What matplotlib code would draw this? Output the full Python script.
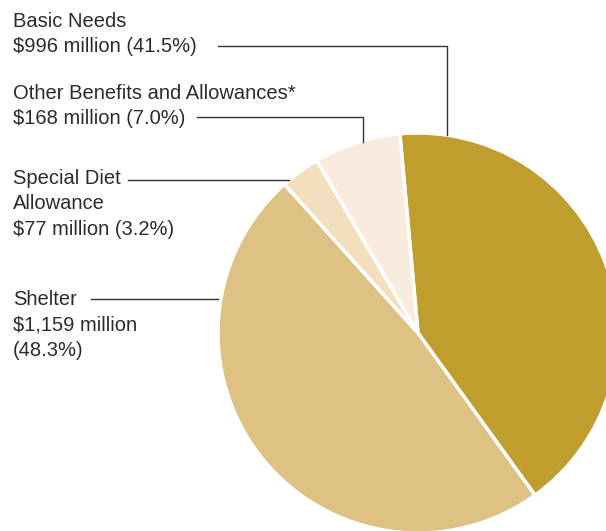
import matplotlib
matplotlib.use("Agg")
import matplotlib.pyplot as plt

plt.rcParams['font.family'] = ['Liberation Sans', 'DejaVu Sans']

# spending by category, $ millions, clockwise from the top
categories = ['Basic Needs', 'Shelter', 'Special Diet Allowance', 'Other Benefits and Allowances*']
amounts = [996, 1159, 77, 168]
shares = [41.5, 48.3, 3.2, 7.0]
colors = ['#bf9e2e', '#dec283', '#f2dfbe', '#f9ecde']

W, H = 606, 531
fig = plt.figure(figsize=(W / 100, H / 100), dpi=100)
ax = fig.add_axes([0, 0, 1, 1])

cx, cy, r = 418, H - 333, 200
ax.pie(shares, colors=colors, startangle=95.2, counterclock=False,
       center=(cx, cy), radius=r, frame=True,
       wedgeprops=dict(edgecolor='white', linewidth=2.5))
ax.set_xlim(0, W)
ax.set_ylim(0, H)
ax.set_aspect('equal')
ax.axis('off')

txt = dict(fontsize=14.5, color='#2b2b2b', va='top', ha='left', linespacing=1.42)

def label(y, text):
    ax.text(13, H - y, text, **txt)

label(12, f"{categories[0]}\n${amounts[0]:,} million ({shares[0]}%)")
label(84, f"{categories[3]}\n${amounts[3]:,} million ({shares[3]}%)")
label(169, "Special Diet\nAllowance\n" + f"${amounts[2]:,} million ({shares[2]}%)")
label(290, f"{categories[1]}\n${amounts[1]:,} million\n({shares[1]}%)")

line = dict(color='#333333', linewidth=1)
ax.plot([218, 447, 447], [H - 46, H - 46, H - 135], **line)
ax.plot([197, 363, 363], [H - 117, H - 117, H - 142], **line)
ax.plot([128, 289], [H - 180, H - 180], **line)
ax.plot([91, 218], [H - 299, H - 299], **line)

fig.savefig('out.png', dpi=100)
